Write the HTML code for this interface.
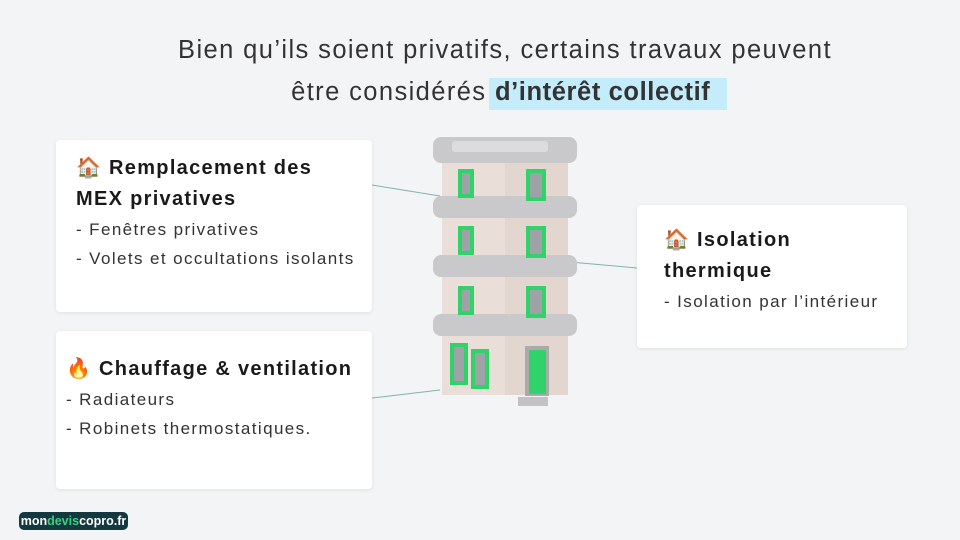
<!DOCTYPE html>
<html><head><meta charset="utf-8"><style>
body{margin:0;width:960px;height:540px;background:#f3f4f6;position:relative;overflow:hidden;font-family:"Liberation Sans","Noto Sans CJK JP",sans-serif;color:#222;}
.t{position:absolute;left:0;width:1010px;text-align:center;font-size:25.5px;letter-spacing:1.4px;color:#333;}
.card{position:absolute;background:#fff;border-radius:4px;box-shadow:0 1px 4px rgba(0,0,0,.08);}
.h{font-weight:bold;font-size:20px;line-height:31px;color:#1a1a1a;letter-spacing:1.3px}
.l{font-size:17px;line-height:29px;color:#333;letter-spacing:1.4px}
.logo{position:absolute;left:19px;top:512px;width:109px;height:18px;background:#123840;border-radius:5px;color:#fff;font-size:12.5px;line-height:18px;text-align:center;font-weight:bold}
</style></head><body>
<div class="t" style="top:36px">Bien qu’ils soient privatifs, certains travaux peuvent</div>
<div style="position:absolute;left:489px;top:78px;width:238px;height:32px;background:#c4ecfb"></div>
<div class="t" style="top:78px">être considérés <b style="letter-spacing:0.6px">d’intérêt collectif</b>&nbsp;</div>
<svg style="position:absolute;left:0;top:0" width="960" height="540">
<g stroke="#7fb3b0" stroke-width="1"><line x1="372" y1="185" x2="440" y2="196"/><line x1="570" y1="262" x2="637" y2="268"/><line x1="372" y1="398" x2="440" y2="390"/></g>
<g>
<rect x="442" y="150" width="126" height="245" fill="#eadfd8"/>
<rect x="505" y="150" width="63" height="245" fill="#e2d6cf"/>
<g fill="#c9c9cb"><rect x="433" y="137" width="144" height="26" rx="8"/><rect x="433" y="196" width="144" height="22" rx="8"/><rect x="433" y="255" width="144" height="22" rx="8"/><rect x="433" y="314" width="144" height="22" rx="8"/></g>
<rect x="452" y="141" width="96" height="11" rx="3" fill="#dcdcde"/>
<g fill="#9fa3a8" stroke="#2fd36a" stroke-width="4">
<rect x="460" y="171" width="12" height="25"/><rect x="528" y="171" width="16" height="28"/>
<rect x="460" y="228" width="12" height="25"/><rect x="528" y="228" width="16" height="28"/>
<rect x="460" y="288" width="12" height="25"/><rect x="528" y="288" width="16" height="28"/>
<rect x="452" y="345" width="14" height="38"/><rect x="473" y="351" width="14" height="36"/></g>
<rect x="525" y="346" width="24" height="50" fill="#aaa"/><rect x="529" y="350" width="17" height="44" fill="#2fd36a"/>
<rect x="518" y="397" width="30" height="9" fill="#c2c2c4"/>
</g></svg>
<div class="card" style="left:56px;top:140px;width:316px;height:172px"><div style="padding:13px 0 0 20px"><div class="h">🏠 Remplacement des<br>MEX privatives</div><div class="l">- Fenêtres privatives<br>- Volets et occultations isolants</div></div></div>
<div class="card" style="left:56px;top:331px;width:316px;height:158px"><div style="padding:23px 0 0 10px"><div class="h">🔥 Chauffage &amp; ventilation</div><div class="l">- Radiateurs<br>- Robinets thermostatiques.</div></div></div>
<div class="card" style="left:637px;top:205px;width:270px;height:143px"><div style="padding:20px 0 0 27px"><div class="h">🏠 Isolation<br>thermique</div><div class="l">- Isolation par l’intérieur</div></div></div>
<div class="logo">mon<span style="color:#3ed07e">devis</span>copro.fr</div>
</body></html>
